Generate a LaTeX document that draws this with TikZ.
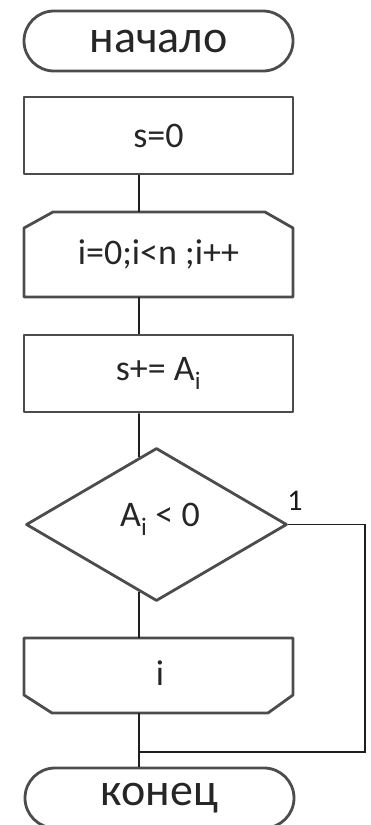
\documentclass[tikz,border=0pt]{standalone}
\usepackage{fontspec}
\setmainfont{Carlito}
\usetikzlibrary{shapes.misc,shapes.geometric}

\tikzset{
  outline/.style={draw=black!70, line width=2.8pt, line join=round},
  conn/.style={draw=black!88, line width=1.8pt},
  termtext/.style={font=\fontsize{46}{46}\selectfont, text=black!85},
  boxtext/.style={font=\fontsize{36}{36}\selectfont, text=black!85},
  terminal/.style={outline, rounded rectangle, minimum width=269pt, minimum height=60pt, inner sep=0pt, termtext},
  procbox/.style={outline, rectangle, minimum width=269pt, minimum height=77pt, inner sep=0pt, boxtext},
  decision/.style={outline, diamond, minimum width=261pt, minimum height=153pt, inner sep=0pt}
}

\begin{document}
\begin{tikzpicture}[x=1pt,y=-1pt]
\useasboundingbox (0,0) rectangle (370,825);
\clip (0,0) rectangle (370,825);

% start terminal and initial assignment
\node[terminal] (start) at (158.5,41) {начало};
\node[procbox] (init) at (158.5,135.5) {s=0};

% loop header: chamfered top corners
\path[outline] (24,297) -- (24,228) -- (53,212) -- (265,212) -- (293,228) -- (293,297) -- cycle;
\node[boxtext] (loop) at (158.5,254.5) {i=0;i<n ;i++};
\coordinate (loopT) at (139,212);
\coordinate (loopB) at (139,297);

% accumulate
\node[procbox] (acc) at (158.5,373.5) {s+= A\textsubscript{i}};

% condition
\node[decision] (cond) at (156.5,524.5) {};
\node[boxtext] (condtext) at (160,519) {A\textsubscript{i} < 0};
\node[font=\fontsize{30}{30}\selectfont, text=black!90] (one) at (295,501) {1};

% loop end: chamfered bottom corners
\path[outline] (24,638) -- (293,638) -- (293,695) -- (268,713) -- (52,713) -- (24,695) -- cycle;
\node[boxtext] (endloop) at (160,673) {i};
\coordinate (endT) at (139,638);
\coordinate (endB) at (139,713);

% end terminal
\node[terminal] (stop) at (159.5,798) {конец};

% connectors
\coordinate (condIn) at (intersection of 139,0--139,1000 and cond.north--cond.west);
\coordinate (condOut) at (intersection of 139,0--139,1000 and cond.south--cond.west);
\coordinate (joinR) at (365,524.5);
\coordinate (joinB) at (365,752);
\coordinate (join) at (139,752);

\draw[conn] (init.south -| loopT) -- (loopT);
\draw[conn] (loopB) -- (acc.north -| loopB);
\draw[conn] (acc.south -| loopB) -- (condIn);
\draw[conn] (condOut) -- (endT);
\draw[conn] (endB) -- (stop.north -| endB);
\draw[conn] (cond.east) -- (joinR) -- (joinB) -- (join);
\end{tikzpicture}
\end{document}
